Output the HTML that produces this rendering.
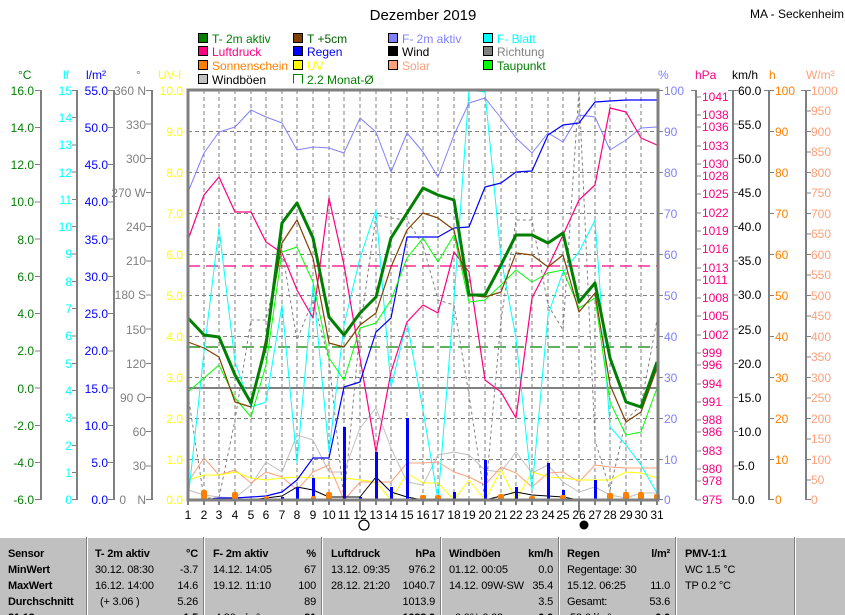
<!DOCTYPE html>
<html><head><meta charset="utf-8"><style>
body{margin:0;background:#fff;}
svg{display:block;font-family:"Liberation Sans",sans-serif;font-size:12px;}
.tb text{font-size:11px;letter-spacing:-0.2px;}
</style></head><body>
<svg width="845" height="615" viewBox="0 0 845 615" xmlns="http://www.w3.org/2000/svg">
<text x="423" y="20" text-anchor="middle" font-size="15">Dezember 2019</text>
<text x="750" y="18" font-size="12">MA - Seckenheim</text>
<g font-size="12">
<rect x="198.5" y="33.5" width="9" height="9" fill="#008000" stroke="#000"/><text x="212" y="43" fill="#008000">T- 2m aktiv</text>
<rect x="198.5" y="46.5" width="9" height="9" fill="#ff0080" stroke="#000"/><text x="212" y="56" fill="#ff0080">Luftdruck</text>
<rect x="198.5" y="60.5" width="9" height="9" fill="#ff8000" stroke="#000"/><text x="212" y="70" fill="#ff8000">Sonnenschein</text>
<rect x="198.5" y="74.5" width="9" height="9" fill="#c0c0c0" stroke="#000"/><text x="212" y="84" fill="#000">Windböen</text>
<rect x="293.5" y="33.5" width="9" height="9" fill="#804000" stroke="#000"/><text x="307" y="43" fill="#006000">T +5cm</text>
<rect x="293.5" y="46.5" width="9" height="9" fill="#0000ff" stroke="#000"/><text x="307" y="56" fill="#0000ff">Regen</text>
<rect x="293.5" y="60.5" width="9" height="9" fill="#ffff00" stroke="#000"/><text x="307" y="70" fill="#ffff00">UV</text>
<path d="M293.5 83.5V74.5H302.5V83.5" fill="none" stroke="#008000"/><text x="307" y="84" fill="#008000">2.2 Monat-Ø</text>
<rect x="388.5" y="33.5" width="9" height="9" fill="#8080ff" stroke="#000"/><text x="402" y="43" fill="#8080ff">F- 2m aktiv</text>
<rect x="388.5" y="46.5" width="9" height="9" fill="#000" stroke="#000"/><text x="402" y="56" fill="#000">Wind</text>
<rect x="388.5" y="60.5" width="9" height="9" fill="#ffa07a" stroke="#000"/><text x="402" y="70" fill="#ffa07a">Solar</text>
<rect x="483.5" y="33.5" width="9" height="9" fill="#00ffff" stroke="#000"/><text x="497" y="43" fill="#00ffff">F- Blatt</text>
<rect x="483.5" y="46.5" width="9" height="9" fill="#808080" stroke="#000"/><text x="497" y="56" fill="#808080">Richtung</text>
<rect x="483.5" y="60.5" width="9" height="9" fill="#00ff00" stroke="#000"/><text x="497" y="70" fill="#008000">Taupunkt</text>
</g>
<text x="18" y="79" fill="#008000">°C</text>
<text x="63" y="79" fill="#00ffff">lf</text>
<text x="86" y="79" fill="#0000ff">l/m²</text>
<text x="136" y="79" fill="#808080">°</text>
<text x="158" y="79" fill="#ffff00">UV-I</text>
<text x="658" y="79" fill="#8080ff">%</text>
<text x="695" y="79" fill="#ff0080">hPa</text>
<text x="732" y="79" fill="#000">km/h</text>
<text x="769" y="79" fill="#ff8000">h</text>
<text x="806" y="79" fill="#ffa07a">W/m²</text>
<g stroke="#808080" stroke-width="2" fill="none">
<path d="M41 90V500M77 90V500M114 90V500M152 90V500M696 90V500M733 90V500M769 90V500M806 90V500"/>
</g>
<g stroke="#808080" stroke-width="1">
<path d="M35 90.5h6M35 127.5h6M35 164.5h6M35 202h6M35 239h6M35 276.5h6M35 313.5h6M35 351h6M35 388h6M35 425.5h6M35 462.5h6M35 499.5h6"/>
<path d="M72 90.5h5M72 117.5h5M72 145h5M72 172h5M72 199.5h5M72 226.5h5M72 254h5M72 281.5h5M72 308.5h5M72 336h5M72 363.5h5M72 390.5h5M72 418h5M72 445.5h5M72 472.5h5M72 499.5h5"/>
<path d="M108 90.5h6M108 127.5h6M108 164.5h6M108 202h6M108 239h6M108 276.5h6M108 313.5h6M108 351h6M108 388h6M108 425.5h6M108 462.5h6M108 499.5h6"/>
<path d="M146 90.5h6M146 124h6M146 158.5h6M146 192.5h6M146 226.5h6M146 261h6M146 295h6M146 329h6M146 363.5h6M146 397.5h6M146 431.5h6M146 466h6M146 499.5h6"/>
<path d="M658 90.5h5M658 131.5h5M658 172.5h5M658 213.5h5M658 254.5h5M658 295.5h5M658 336.5h5M658 377.5h5M658 418.5h5M658 459.5h5M658 499.5h5"/>
<path d="M691 90.5h5M696 97h5M696 115h5M696 127h5M696 146h5M696 164h5M696 176h5M696 194h5M696 213h5M696 231h5M696 249h5M696 268h5M696 280h5M696 298h5M696 316h5M696 335h5M696 353h5M696 365h5M696 384h5M696 402h5M696 420h5M696 432h5M696 451h5M696 469h5M696 481h5M696 500h5"/>
<path d="M728 90.5h5M733 90.5h5M733 124h5M733 158.5h5M733 192.5h5M733 226.5h5M733 261h5M733 295h5M733 329h5M733 363.5h5M733 397.5h5M733 431.5h5M733 466h5M733 499.5h5"/>
<path d="M764 90.5h5M769 90.5h5M769 131.5h5M769 172.5h5M769 213.5h5M769 254.5h5M769 295.5h5M769 336.5h5M769 377.5h5M769 418.5h5M769 459.5h5M769 499.5h5"/>
<path d="M801 90.5h5M806 90.5h5M806 111h5M806 131.5h5M806 152h5M806 172.5h5M806 193h5M806 213.5h5M806 234h5M806 254.5h5M806 275h5M806 295.5h5M806 316h5M806 336.5h5M806 357h5M806 377.5h5M806 398h5M806 418.5h5M806 439h5M806 459.5h5M806 480h5M806 499.5h5"/>
</g>
<g text-anchor="end" fill="#008000">
<text x="34" y="95">16.0</text><text x="34" y="132">14.0</text><text x="34" y="169">12.0</text><text x="34" y="206">10.0</text><text x="34" y="244">8.0</text><text x="34" y="281">6.0</text><text x="34" y="318">4.0</text><text x="34" y="355">2.0</text><text x="34" y="393">0.0</text><text x="34" y="430">-2.0</text><text x="34" y="467">-4.0</text><text x="34" y="504">-6.0</text>
</g>
<g text-anchor="end" fill="#00ffff">
<text x="72" y="95">15</text><text x="72" y="122">14</text><text x="72" y="149">13</text><text x="72" y="177">12</text><text x="72" y="204">11</text><text x="72" y="231">10</text><text x="72" y="258">9</text><text x="72" y="286">8</text><text x="72" y="313">7</text><text x="72" y="340">6</text><text x="72" y="368">5</text><text x="72" y="395">4</text><text x="72" y="422">3</text><text x="72" y="450">2</text><text x="72" y="477">1</text><text x="72" y="504">0</text>
</g>
<g text-anchor="end" fill="#0000ff">
<text x="108" y="95">55.0</text><text x="108" y="132">50.0</text><text x="108" y="169">45.0</text><text x="108" y="206">40.0</text><text x="108" y="244">35.0</text><text x="108" y="281">30.0</text><text x="108" y="318">25.0</text><text x="108" y="355">20.0</text><text x="108" y="393">15.0</text><text x="108" y="430">10.0</text><text x="108" y="467">5.0</text><text x="108" y="504">0.0</text>
</g>
<g text-anchor="end" fill="#808080">
<text x="146" y="95">360 N</text><text x="146" y="129">330</text><text x="146" y="163">300</text><text x="146" y="197">270 W</text><text x="146" y="231">240</text><text x="146" y="265">210</text><text x="146" y="299">180 S</text><text x="146" y="334">150</text><text x="146" y="368">120</text><text x="146" y="402">90 O</text><text x="146" y="436">60</text><text x="146" y="470">30</text><text x="146" y="504">N</text><text x="126" y="504">0</text>
</g>
<g text-anchor="end" fill="#ffff00">
<text x="183" y="95">10.0</text><text x="183" y="136">9.0</text><text x="183" y="177">8.0</text><text x="183" y="218">7.0</text><text x="183" y="259">6.0</text><text x="183" y="300">5.0</text><text x="183" y="341">4.0</text><text x="183" y="382">3.0</text><text x="183" y="423">2.0</text><text x="183" y="464">1.0</text><text x="183" y="504">0.0</text>
</g>
<g fill="#8080ff">
<text x="664" y="95">100</text><text x="664" y="136">90</text><text x="664" y="177">80</text><text x="664" y="218">70</text><text x="664" y="259">60</text><text x="664" y="300">50</text><text x="664" y="341">40</text><text x="664" y="382">30</text><text x="664" y="423">20</text><text x="664" y="464">10</text><text x="664" y="504">0</text>
</g>
<g fill="#ff0080">
<text x="702" y="101">1041</text><text x="702" y="119">1038</text><text x="702" y="131">1036</text><text x="702" y="150">1033</text><text x="702" y="168">1030</text><text x="702" y="180">1028</text><text x="702" y="198">1025</text><text x="702" y="217">1022</text><text x="702" y="235">1019</text><text x="702" y="253">1016</text><text x="702" y="272">1013</text><text x="702" y="284">1011</text><text x="702" y="302">1008</text><text x="702" y="320">1005</text><text x="702" y="339">1002</text><text x="702" y="357">999</text><text x="702" y="369">996</text><text x="702" y="388">994</text><text x="702" y="406">991</text><text x="702" y="424">988</text><text x="702" y="436">986</text><text x="702" y="455">983</text><text x="702" y="473">980</text><text x="702" y="485">978</text><text x="702" y="504">975</text>
</g>
<g fill="#000">
<text x="738" y="95">60.0</text><text x="738" y="129">55.0</text><text x="738" y="163">50.0</text><text x="738" y="197">45.0</text><text x="738" y="231">40.0</text><text x="738" y="265">35.0</text><text x="738" y="299">30.0</text><text x="738" y="334">25.0</text><text x="738" y="368">20.0</text><text x="738" y="402">15.0</text><text x="738" y="436">10.0</text><text x="738" y="470">5.0</text><text x="738" y="504">0.0</text>
</g>
<g fill="#ff8000">
<text x="775" y="95">100</text><text x="775" y="136">90</text><text x="775" y="177">80</text><text x="775" y="218">70</text><text x="775" y="259">60</text><text x="775" y="300">50</text><text x="775" y="341">40</text><text x="775" y="382">30</text><text x="775" y="423">20</text><text x="775" y="464">10</text><text x="775" y="504">0</text>
</g>
<g fill="#ffa07a">
<text x="811" y="95">1000</text><text x="811" y="115">950</text><text x="811" y="136">900</text><text x="811" y="156">850</text><text x="811" y="177">800</text><text x="811" y="197">750</text><text x="811" y="218">700</text><text x="811" y="238">650</text><text x="811" y="259">600</text><text x="811" y="279">550</text><text x="811" y="300">500</text><text x="811" y="320">450</text><text x="811" y="341">400</text><text x="811" y="361">350</text><text x="811" y="382">300</text><text x="811" y="402">250</text><text x="811" y="423">200</text><text x="811" y="443">150</text><text x="811" y="464">100</text><text x="811" y="484">50</text><text x="811" y="504">0</text>
</g>
<g stroke="#808080" stroke-width="1" stroke-dasharray="4,3">
<path d="M204 90V500M219 90V500M235 90V500M251 90V500M266 90V500M282 90V500M297 90V500M313 90V500M329 90V500M344 90V500M360 90V500M376 90V500M391 90V500M407 90V500M423 90V500M438 90V500M454 90V500M469 90V500M485 90V500M501 90V500M516 90V500M532 90V500M548 90V500M563 90V500M579 90V500M595 90V500M610 90V500M626 90V500M641 90V500"/>
<path d="M188 131.5H658M188 172.5H658M188 213.5H658M188 254.5H658M188 295.5H658M188 336.5H658M188 377.5H658M188 418.5H658M188 459.5H658"/>
</g>
<path d="M188 388H658" stroke="#808080" stroke-width="2"/>
<path d="M188 266H658" stroke="#ff0080" stroke-width="1.2" stroke-dasharray="12,6"/>
<path d="M188 347H658" stroke="#008000" stroke-width="1.2" stroke-dasharray="12,6"/>
<g stroke="#000"><path d="M188 500v5M204 500v5M219 500v5M235 500v5M251 500v5M266 500v5M282 500v5M297 500v5M313 500v5M329 500v5M344 500v5M360 500v12M376 500v5M391 500v5M407 500v5M423 500v5M438 500v5M454 500v5M469 500v5M485 500v5M501 500v5M516 500v5M532 500v5M548 500v5M563 500v5M579 500v12M595 500v5M610 500v5M626 500v5M641 500v5M657 500v5"/></g>
<g text-anchor="middle" font-size="12">
<text x="188" y="519">1</text><text x="204" y="519">2</text><text x="219" y="519">3</text><text x="235" y="519">4</text><text x="251" y="519">5</text><text x="266" y="519">6</text><text x="282" y="519">7</text><text x="297" y="519">8</text><text x="313" y="519">9</text><text x="329" y="519">10</text><text x="344" y="519">11</text><text x="360" y="519">12</text><text x="376" y="519">13</text><text x="391" y="519">14</text><text x="407" y="519">15</text><text x="423" y="519">16</text><text x="438" y="519">17</text><text x="454" y="519">18</text><text x="469" y="519">19</text><text x="485" y="519">20</text><text x="501" y="519">21</text><text x="516" y="519">22</text><text x="532" y="519">23</text><text x="548" y="519">24</text><text x="563" y="519">25</text><text x="579" y="519">26</text><text x="595" y="519">27</text><text x="610" y="519">28</text><text x="626" y="519">29</text><text x="641" y="519">30</text><text x="657" y="519">31</text>
</g>
<circle cx="364" cy="525" r="5" fill="none" stroke="#000" stroke-width="1.2"/>
<circle cx="584" cy="525" r="4.5" fill="#000"/>
<g fill="none" stroke-linejoin="round">
<polyline stroke="#808080" stroke-dasharray="3,3" points="188,395 204,498 219,498 235,420 251,320 266,320 282,250 297,340 313,300 329,360 344,500 360,330 376,215 391,218 407,220 423,245 438,300 454,305 469,395 485,500 501,320 516,220 532,220 548,305 563,330 579,90 595,440 610,490 626,420 641,405 657,320"/>
<polyline stroke="#c0c0c0" points="188,490 204,495 219,497 235,498 251,485 266,462 282,472 297,435 313,440 329,472 344,472 360,428 376,408 391,448 407,482 423,485 438,455 454,452 469,455 485,470 501,472 516,452 532,473 548,465 563,482 579,492 595,487 610,495 626,498 641,493 657,493"/>
<polyline stroke="#ffa07a" points="188,482 204,458 219,475 235,470 251,483 266,472 282,477 297,490 313,472 329,465 344,500 360,482 376,482 391,482 407,463 423,463 438,462 454,472 469,477 485,485 501,467 516,473 532,487 548,473 563,472 579,482 595,465 610,467 626,468 641,468 657,468"/>
<polyline stroke="#ffff00" points="188,480 204,475 219,475 235,472 251,478 266,480 282,478 297,477 313,478 329,478 344,478 360,480 376,482 391,500 407,473 423,483 438,483 454,500 469,480 485,500 501,470 516,500 532,472 548,477 563,478 579,480 595,480 610,480 626,472 641,473 657,478"/>
<polyline stroke="#000" points="188,500 204,500 219,500 235,500 251,500 266,498 282,496 297,487 313,490 329,497 344,497 360,497 376,477 391,492 407,497 423,500 438,500 454,500 469,500 485,500 501,496 516,492 532,495 548,496 563,497 579,500 595,500 610,500 626,500 641,500 657,500"/>
<polyline stroke="#00ffff" points="188,500 204,352 219,228 235,362 251,407 266,402 282,305 297,463 313,285 329,452 344,325 360,258 376,210 391,387 407,322 423,410 438,500 454,300 469,90 485,92 501,258 516,338 532,490 548,315 563,272 579,252 595,220 610,427 626,445 641,465 657,493"/>
<polyline stroke="#8080ff" points="188,192 204,153 219,132 235,127 251,110 266,117 282,123 297,150 313,147 329,148 344,153 360,118 376,132 391,172 407,133 423,152 438,177 454,135 469,103 485,98 501,118 516,138 532,153 548,133 563,142 579,115 595,117 610,150 626,140 641,128 657,127"/>
<polyline stroke="#ff0080" stroke-width="1.2" points="188,240 204,195 219,177 235,212 251,212 266,242 282,253 297,290 313,318 329,198 344,265 360,358 376,452 391,372 407,322 423,305 438,313 454,252 469,272 485,380 501,392 516,418 532,298 548,267 563,235 579,200 595,185 610,108 626,112 641,138 657,145"/>
<polyline stroke="#0000ff" stroke-width="1.2" points="188,500 204,500 219,498 235,498 251,497 266,496 282,492 297,480 313,458 329,458 344,387 360,382 376,332 391,318 407,237 423,237 438,237 454,228 469,227 485,187 501,183 516,172 532,171 548,135 563,125 579,123 595,102 610,101 626,100 641,100 657,100"/>
<polyline stroke="#00ff00" points="188,392 204,378 219,365 235,398 251,417 266,365 282,252 297,247 313,282 329,358 344,380 360,328 376,323 391,300 407,258 423,238 438,262 454,235 469,302 485,300 501,285 516,270 532,282 548,273 563,270 579,308 595,298 610,402 626,435 641,432 657,388"/>
<polyline stroke="#804000" stroke-width="1.2" points="188,342 204,348 219,357 235,402 251,407 266,338 282,243 297,220 313,258 329,343 344,347 360,325 376,313 391,267 407,230 423,213 438,218 454,230 469,295 485,297 501,292 516,253 532,255 548,267 563,255 579,312 595,293 610,385 626,422 641,412 657,368"/>
<polyline stroke="#008000" stroke-width="3" points="188,318 204,335 219,337 235,375 251,403 266,345 282,223 297,203 313,238 329,317 344,335 360,313 376,297 391,238 407,213 423,188 438,195 454,200 469,295 485,295 501,265 516,235 532,235 548,243 563,233 579,302 595,283 610,358 626,402 641,407 657,362"/>
</g>
<g fill="#0000ff">
<rect x="281" y="497" width="3" height="3"/><rect x="296" y="487" width="3" height="13"/><rect x="312" y="478" width="3" height="22"/><rect x="343" y="427" width="3" height="73"/><rect x="359" y="497" width="3" height="3"/><rect x="375" y="452" width="3" height="48"/><rect x="390" y="487" width="3" height="13"/><rect x="406" y="418" width="3" height="82"/><rect x="453" y="492" width="3" height="8"/><rect x="484" y="460" width="3" height="40"/><rect x="500" y="497" width="3" height="3"/><rect x="515" y="487" width="3" height="13"/><rect x="547" y="463" width="3" height="37"/><rect x="562" y="490" width="3" height="10"/><rect x="594" y="480" width="3" height="20"/>
</g>
<g fill="#ff8000">
<rect x="201" y="490" width="6" height="10" rx="2"/><rect x="232" y="492" width="6" height="8" rx="2"/><rect x="264" y="496" width="5" height="4" rx="2"/><rect x="311" y="496" width="5" height="4" rx="2"/><rect x="326" y="492" width="6" height="8" rx="2"/><rect x="420" y="495" width="6" height="5" rx="2"/><rect x="435" y="495" width="6" height="5" rx="2"/><rect x="498" y="494" width="6" height="6" rx="2"/><rect x="529" y="496" width="6" height="4" rx="2"/><rect x="560" y="495" width="6" height="5" rx="2"/><rect x="607" y="493" width="6" height="7" rx="2"/><rect x="623" y="492" width="6" height="8" rx="2"/><rect x="638" y="492" width="6" height="8" rx="2"/><rect x="654" y="494" width="6" height="6" rx="2"/>
</g>
<rect x="188" y="90" width="470" height="410" fill="none" stroke="#808080" stroke-width="3"/>
<rect x="0" y="537" width="845" height="78" fill="#c0c0c0"/>
<path d="M0 537.5H845" stroke="#fff"/>
<g stroke="#808080"><path d="M86.5 537V615M203.5 537V615M321.5 537V615M440.5 537V615M558.5 537V615M675.5 537V615M794.5 537V615"/></g>
<g stroke="#fff"><path d="M87.5 538V615M204.5 538V615M322.5 538V615M441.5 538V615M559.5 538V615M676.5 538V615M795.5 538V615"/></g>
<g class="tb" fill="#000">
<g font-weight="bold"><text x="8" y="557">Sensor</text><text x="8" y="573">MinWert</text><text x="8" y="589">MaxWert</text><text x="8" y="605">Durchschnitt</text><text x="8" y="621">31.12.</text>
<text x="95" y="557">T- 2m aktiv</text><text x="198" y="557" text-anchor="end">°C</text>
<text x="213" y="557">F- 2m aktiv</text><text x="316" y="557" text-anchor="end">%</text>
<text x="331" y="557">Luftdruck</text><text x="435" y="557" text-anchor="end">hPa</text>
<text x="449" y="557">Windböen</text><text x="553" y="557" text-anchor="end">km/h</text>
<text x="567" y="557">Regen</text><text x="670" y="557" text-anchor="end">l/m²</text>
<text x="685" y="557">PMV-1:1</text>
<text x="198" y="621" text-anchor="end">1.5</text><text x="316" y="621" text-anchor="end">81</text><text x="435" y="621" text-anchor="end">1033.9</text><text x="553" y="621" text-anchor="end">0.0</text><text x="670" y="621" text-anchor="end">0.0</text></g>
<text x="95" y="573">30.12.  08:30</text><text x="198" y="573" text-anchor="end">-3.7</text>
<text x="95" y="589">16.12.  14:00</text><text x="198" y="589" text-anchor="end">14.6</text>
<text x="100" y="605">(+ 3.06 )</text><text x="198" y="605" text-anchor="end">5.26</text>
<text x="213" y="573">14.12.  14:05</text><text x="316" y="573" text-anchor="end">67</text>
<text x="213" y="589">19.12.  11:10</text><text x="316" y="589" text-anchor="end">100</text>
<text x="316" y="605" text-anchor="end">89</text>
<text x="215" y="621">4.90 g/m³</text>
<text x="331" y="573">13.12.  09:35</text><text x="435" y="573" text-anchor="end">976.2</text>
<text x="331" y="589">28.12.  21:20</text><text x="435" y="589" text-anchor="end">1040.7</text>
<text x="435" y="605" text-anchor="end">1013.9</text>
<text x="449" y="573">01.12.  00:05</text><text x="553" y="573" text-anchor="end">0.0</text>
<text x="449" y="589">14.12.  09W-SW</text><text x="553" y="589" text-anchor="end">35.4</text>
<text x="553" y="605" text-anchor="end">3.5</text>
<text x="455" y="621">0.0% 6.68</text>
<text x="567" y="573">Regentage: 30</text>
<text x="567" y="589">15.12.  06:25</text><text x="670" y="589" text-anchor="end">11.0</text>
<text x="567" y="605">Gesamt:</text><text x="670" y="605" text-anchor="end">53.6</text>
<text x="570" y="621">53.6 l/m²</text>
<text x="685" y="573">WC 1.5 °C</text>
<text x="685" y="589">TP 0.2 °C</text>
</g>
</svg>
</body></html>
